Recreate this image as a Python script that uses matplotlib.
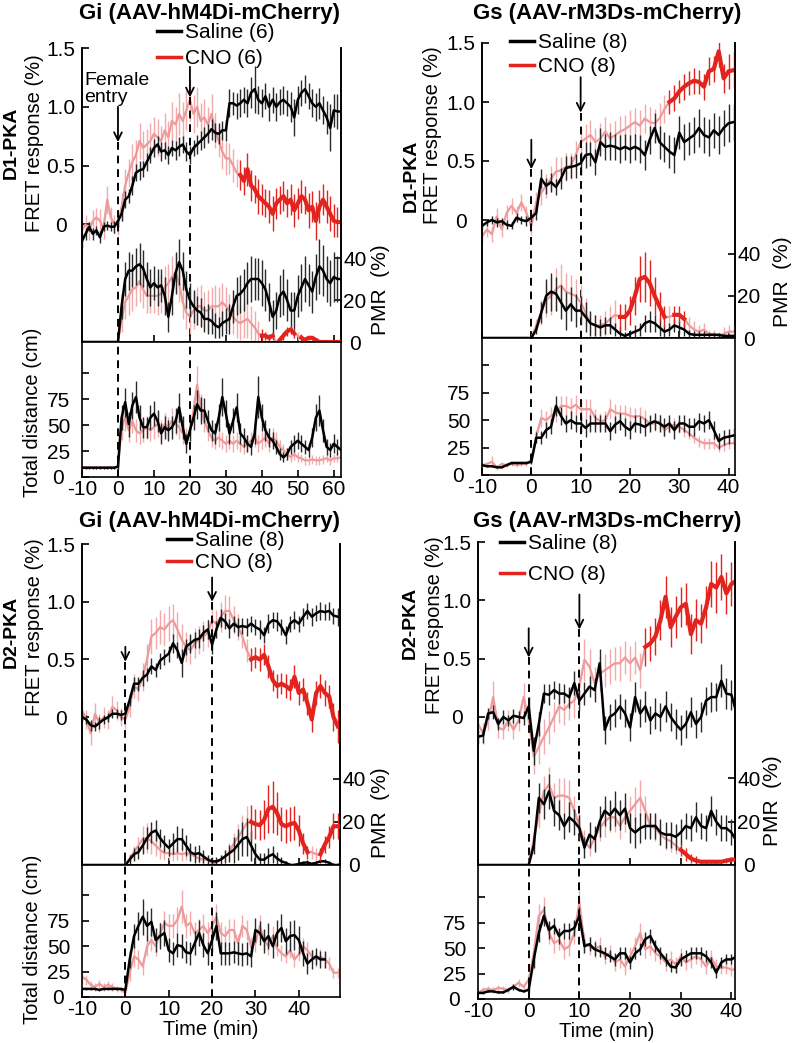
import numpy as np
import matplotlib
matplotlib.use('Agg')
import matplotlib.pyplot as plt
from matplotlib.lines import Line2D

plt.rcParams['font.family'] = ['Liberation Sans', 'DejaVu Sans']
plt.rcParams['font.size'] = 14
plt.rcParams['axes.unicode_minus'] = False

# ---------------- data ----------------
# D1-PKA, Gi (AAV-hM4Di-mCherry)
p1_t = np.arange(-10, 63)
p1_fret_sal = [-0.14, -0.08, -0.02, -0.08, -0.05, -0.11, -0.02, -0.01, -0.02, -0.02,
               0.03, 0.09, 0.21, 0.24, 0.33, 0.44, 0.46, 0.47, 0.53, 0.59,
               0.65, 0.68, 0.62, 0.63, 0.59, 0.65, 0.63, 0.66, 0.68, 0.62,
               0.59, 0.65, 0.68, 0.71, 0.74, 0.77, 0.81, 0.78, 0.77, 0.80,
               0.80, 1.03, 1.03, 1.01, 1.03, 1.06, 1.03, 1.12, 1.15, 1.06,
               1.03, 1.09, 1.00, 1.06, 1.00, 1.04, 1.06, 1.03, 1.00, 0.91,
               1.06, 1.12, 1.15, 1.09, 1.03, 1.00, 1.03, 0.97, 0.91, 0.82,
               0.97, 0.96, 0.96]
p1_fret_sal_err = [0.06, 0.05, 0.04, 0.05, 0.04, 0.05, 0.04, 0.04, 0.04, 0.05,
                   0.05, 0.06, 0.07, 0.06, 0.08, 0.07, 0.08, 0.07, 0.08, 0.07,
                   0.08, 0.07, 0.08, 0.07, 0.08, 0.07, 0.08, 0.08, 0.07, 0.08,
                   0.08, 0.07, 0.08, 0.08, 0.09, 0.08, 0.09, 0.08, 0.09, 0.08,
                   0.09, 0.12, 0.10, 0.11, 0.12, 0.11, 0.12, 0.13, 0.20, 0.12,
                   0.12, 0.11, 0.12, 0.11, 0.12, 0.11, 0.12, 0.11, 0.13, 0.16,
                   0.12, 0.11, 0.12, 0.11, 0.12, 0.12, 0.13, 0.12, 0.14, 0.20,
                   0.14, 0.15, 0.20]
p1_fret_cno = [-0.05, 0.00, -0.05, 0.03, 0.06, 0.03, -0.03, 0.21, 0.06, 0.00,
               0.00, 0.15, 0.33, 0.44, 0.53, 0.59, 0.71, 0.65, 0.68, 0.71,
               0.77, 0.74, 0.71, 0.80, 0.74, 0.88, 0.85, 0.94, 0.88, 0.97,
               1.06, 0.94, 1.00, 0.88, 0.91, 0.85, 0.94, 0.80, 0.71, 0.62,
               0.56, 0.56, 0.50, 0.44, 0.42, 0.37, 0.47, 0.33, 0.30, 0.24,
               0.21, 0.18, 0.15, 0.09, 0.18, 0.21, 0.24, 0.18, 0.21, 0.12,
               0.18, 0.24, 0.21, 0.12, 0.15, 0.03, 0.15, 0.21, 0.15, 0.09,
               0.03, 0.02, 0.02]
p1_fret_cno_err = [0.08, 0.08, 0.08, 0.09, 0.08, 0.10, 0.09, 0.12, 0.09, 0.08,
                   0.09, 0.12, 0.14, 0.12, 0.15, 0.13, 0.15, 0.14, 0.13, 0.15,
                   0.14, 0.16, 0.13, 0.15, 0.14, 0.16, 0.15, 0.18, 0.16, 0.17,
                   0.18, 0.16, 0.17, 0.15, 0.16, 0.15, 0.17, 0.15, 0.14, 0.15,
                   0.14, 0.13, 0.14, 0.12, 0.13, 0.12, 0.14, 0.13, 0.12, 0.15,
                   0.13, 0.12, 0.14, 0.15, 0.13, 0.12, 0.13, 0.12, 0.13, 0.14,
                   0.13, 0.14, 0.12, 0.15, 0.13, 0.16, 0.14, 0.13, 0.14, 0.15,
                   0.14, 0.13, 0.16]
p1_pmr_sal = [0, 0, 0, 0, 0, 0, 0, 0, 0, 0,
              0, 17, 30, 34, 34, 36, 37, 35, 30, 26,
              28, 26, 27, 22, 12, 22, 33, 38, 34, 25,
              20, 17, 15, 14, 11, 11, 10, 8, 7, 9,
              10, 11, 17, 22, 23, 25, 28, 30, 30, 30,
              28, 25, 19, 12, 15, 22, 24, 20, 15, 15,
              22, 26, 30, 27, 24, 31, 36, 34, 30, 28,
              31, 30, 30]
p1_pmr_sal_err = [0, 0, 0, 0, 0, 0, 0, 0, 0, 0,
                  0, 6, 8, 9, 8, 9, 10, 9, 8, 9,
                  8, 9, 8, 9, 7, 9, 10, 11, 9, 9,
                  8, 8, 7, 7, 6, 7, 6, 6, 5, 6,
                  6, 7, 8, 9, 9, 10, 10, 11, 10, 10,
                  11, 10, 9, 8, 9, 10, 11, 10, 9, 9,
                  10, 11, 11, 10, 10, 11, 13, 12, 11, 11,
                  12, 11, 12]
p1_pmr_cno = [0, 0, 0, 0, 0, 0, 0, 0, 0, 0,
              0, 11, 19, 22, 25, 26, 29, 25, 22, 22,
              22, 22, 23, 26, 28, 31, 33, 28, 19, 14,
              12, 15, 17, 17, 15, 15, 17, 17, 17, 19,
              17, 15, 12, 10, 9, 10, 11, 9, 7, 4,
              3, 3, 2, 3, 0, 1, 3, 5, 6, 4,
              3, 2, 1, 2, 2, 1, 0, 0, 0, 0,
              0, 0, 0]
p1_pmr_cno_err = [0, 0, 0, 0, 0, 0, 0, 0, 0, 0,
                  0, 6, 8, 9, 10, 9, 10, 9, 8, 8,
                  8, 9, 9, 10, 9, 10, 9, 9, 8, 8,
                  8, 9, 9, 10, 9, 10, 9, 10, 9, 9,
                  9, 8, 8, 8, 8, 8, 9, 8, 8, 6,
                  3, 2, 2, 2, 1, 2, 2, 2, 2, 2,
                  2, 2, 1, 1, 1, 1, 0, 0, 0, 0,
                  0, 0, 0]
p1_dist_sal = [9, 9, 9, 9, 9, 9, 9, 9, 9, 9,
               10, 57, 72, 51, 69, 77, 57, 48, 48, 57,
               61, 54, 42, 48, 45, 48, 54, 67, 48, 32,
               45, 57, 70, 64, 64, 54, 45, 42, 57, 77,
               61, 42, 54, 67, 42, 38, 32, 29, 42, 77,
               57, 45, 38, 35, 29, 22, 19, 22, 29, 32,
               35, 32, 29, 26, 38, 57, 64, 45, 29, 26,
               32, 29, 26]
p1_dist_sal_err = [1, 1, 1, 1, 1, 1, 1, 1, 1, 1,
                   2, 12, 14, 12, 13, 15, 12, 10, 10, 12,
                   12, 11, 10, 11, 10, 11, 12, 14, 11, 9,
                   10, 12, 14, 13, 12, 11, 10, 10, 13, 18,
                   13, 10, 12, 14, 10, 9, 8, 8, 10, 20,
                   13, 10, 9, 8, 7, 6, 5, 6, 7, 8,
                   8, 8, 7, 7, 9, 13, 15, 11, 8, 7,
                   9, 8, 7]
p1_dist_cno = [9, 9, 9, 9, 9, 9, 9, 9, 9, 9,
               10, 48, 57, 45, 54, 45, 42, 45, 48, 45,
               48, 51, 45, 51, 48, 54, 51, 48, 42, 38,
               42, 64, 89, 67, 54, 45, 38, 35, 38, 35,
               32, 35, 32, 35, 32, 29, 32, 35, 38, 32,
               35, 38, 32, 38, 35, 29, 26, 22, 19, 22,
               19, 18, 16, 16, 17, 16, 16, 17, 18, 16,
               18, 18, 19]
p1_dist_cno_err = [1, 1, 1, 1, 1, 1, 1, 1, 1, 1,
                   2, 12, 13, 11, 12, 11, 10, 11, 11, 10,
                   11, 12, 10, 11, 10, 12, 11, 11, 10, 9,
                   10, 13, 18, 13, 11, 10, 9, 8, 9, 8,
                   8, 8, 8, 8, 8, 7, 8, 8, 9, 8,
                   8, 9, 8, 9, 8, 7, 6, 6, 5, 6,
                   5, 4, 4, 4, 4, 4, 4, 4, 4, 4,
                   4, 4, 4]
p1_sig_fret = [(34, 62)]
p1_sig_pmr = [(40, 43), (45, 49), (51, 62)]

# D1-PKA, Gs (AAV-rM3Ds-mCherry)
p2_t = np.arange(-10, 42)
p2_fret_sal = [-0.05, -0.02, 0.00, -0.02, -0.01, -0.04, -0.05, 0.02, 0.00, -0.01,
               0.02, 0.06, 0.35, 0.29, 0.32, 0.28, 0.35, 0.44, 0.45, 0.46,
               0.48, 0.55, 0.56, 0.49, 0.66, 0.62, 0.63, 0.62, 0.60, 0.62,
               0.60, 0.62, 0.60, 0.55, 0.68, 0.78, 0.66, 0.62, 0.58, 0.55,
               0.74, 0.66, 0.69, 0.72, 0.78, 0.72, 0.70, 0.76, 0.72, 0.78,
               0.82, 0.83]
p2_fret_sal_err = [0.03, 0.03, 0.03, 0.04, 0.03, 0.04, 0.03, 0.04, 0.03, 0.04,
                   0.04, 0.06, 0.08, 0.07, 0.08, 0.07, 0.09, 0.10, 0.09, 0.10,
                   0.10, 0.11, 0.10, 0.11, 0.12, 0.11, 0.12, 0.11, 0.12, 0.11,
                   0.12, 0.11, 0.12, 0.13, 0.12, 0.13, 0.14, 0.13, 0.14, 0.15,
                   0.14, 0.15, 0.14, 0.15, 0.16, 0.15, 0.16, 0.15, 0.16, 0.15,
                   0.16, 0.15]
p2_fret_cno = [-0.14, -0.08, -0.12, 0.03, -0.08, 0.06, 0.12, 0.06, 0.15, 0.06,
               -0.05, 0.15, 0.23, 0.29, 0.35, 0.41, 0.42, 0.45, 0.46, 0.55,
               0.66, 0.69, 0.72, 0.66, 0.69, 0.75, 0.69, 0.72, 0.75, 0.77,
               0.80, 0.83, 0.80, 0.86, 0.83, 0.82, 0.86, 0.94, 1.00, 1.03,
               1.09, 1.13, 1.16, 1.18, 1.17, 1.13, 1.26, 1.28, 1.43, 1.20,
               1.26, 1.27]
p2_fret_cno_err = [0.06, 0.06, 0.07, 0.07, 0.06, 0.07, 0.07, 0.06, 0.07, 0.06,
                   0.08, 0.09, 0.10, 0.10, 0.11, 0.12, 0.11, 0.12, 0.11, 0.12,
                   0.13, 0.12, 0.13, 0.12, 0.13, 0.12, 0.13, 0.12, 0.13, 0.12,
                   0.13, 0.12, 0.13, 0.12, 0.13, 0.12, 0.13, 0.12, 0.10, 0.11,
                   0.10, 0.11, 0.10, 0.11, 0.10, 0.11, 0.12, 0.11, 0.13, 0.12,
                   0.15, 0.15]
p2_pmr_sal = [0, 0, 0, 0, 0, 0, 0, 0, 0, 0,
              0, 4, 12, 20, 22, 21, 17, 13, 16, 13,
              13, 10, 7, 6, 5, 6, 6, 4, 2, 1,
              2, 3, 4, 7, 8, 7, 5, 3, 4, 6,
              5, 4, 2, 1.5, 1.5, 1.5, 1.5, 1.5, 1.5, 1,
              1, 1]
p2_pmr_sal_err = [0, 0, 0, 0, 0, 0, 0, 0, 0, 0,
                  0, 2, 5, 8, 9, 8, 8, 9, 8, 8,
                  7, 7, 6, 5, 4, 4, 4, 3, 3, 2,
                  2, 3, 3, 4, 5, 4, 4, 3, 3, 3,
                  3, 3, 2, 2, 2, 2, 1, 1, 1, 1,
                  1, 1]
p2_pmr_cno = [0, 0, 0, 0, 0, 0, 0, 0, 0, 0,
              0, 6, 12, 18, 20, 23, 25, 22, 21, 20,
              17, 12, 7, 6, 6, 7, 9, 11, 10, 10,
              13, 20, 28, 29, 26, 20, 15, 10, 10, 11,
              11, 9, 6, 4, 3, 4, 2, 2, 1, 2,
              3, 3]
p2_pmr_cno_err = [0, 0, 0, 0, 0, 0, 0, 0, 0, 0,
                  0, 3, 6, 8, 9, 10, 10, 9, 9, 8,
                  8, 7, 5, 5, 5, 6, 6, 7, 6, 6,
                  7, 9, 11, 12, 11, 9, 7, 5, 5, 4,
                  4, 4, 4, 4, 3, 3, 2, 2, 2, 3,
                  3, 3]
p2_dist_sal = [9, 8, 8, 7, 7, 9, 11, 11, 11, 11,
               12, 34, 34, 41, 44, 63, 54, 47, 50, 47,
               47, 43, 47, 47, 47, 47, 40, 46, 49, 44,
               41, 47, 46, 44, 47, 49, 47, 44, 47, 41,
               47, 47, 44, 44, 49, 47, 50, 41, 31, 34,
               35, 36]
p2_dist_sal_err = [1, 1, 1, 1, 1, 1, 1, 1, 1, 1,
                   2, 5, 6, 7, 7, 9, 8, 8, 8, 8,
                   8, 8, 8, 8, 8, 8, 8, 8, 8, 8,
                   8, 8, 8, 8, 8, 8, 8, 8, 8, 8,
                   8, 8, 8, 8, 8, 8, 8, 8, 7, 7,
                   7, 7]
p2_dist_cno = [9, 10, 12, 7, 10, 9, 10, 9, 10, 10,
               14, 35, 52, 50, 54, 57, 63, 63, 61, 64,
               60, 60, 60, 52, 49, 50, 60, 57, 56, 56,
               54, 53, 54, 51, 47, 47, 49, 41, 44, 46,
               44, 41, 38, 34, 31, 29, 29, 29, 25, 27,
               29, 29]
p2_dist_cno_err = [2, 2, 5, 2, 2, 2, 2, 2, 2, 2,
                   3, 6, 8, 8, 8, 9, 9, 9, 9, 9,
                   9, 9, 9, 8, 8, 8, 9, 8, 8, 8,
                   8, 8, 8, 8, 7, 7, 7, 6, 6, 6,
                   6, 6, 5, 5, 5, 5, 5, 5, 4, 5,
                   5, 5]
p2_sig_fret = [(28, 41)]
p2_sig_pmr = [(18, 27), (29, 31)]

# D2-PKA, Gi (AAV-hM4Di-mCherry)
p3_t = np.arange(-10, 50)
p3_fret_sal = [0.00, -0.02, -0.07, -0.08, -0.05, -0.02, 0.00, 0.03, 0.03, 0.02,
               0.03, 0.15, 0.29, 0.29, 0.34, 0.37, 0.44, 0.41, 0.49, 0.52,
               0.55, 0.64, 0.58, 0.47, 0.61, 0.64, 0.67, 0.68, 0.73, 0.76,
               0.63, 0.76, 0.86, 0.83, 0.77, 0.81, 0.78, 0.79, 0.78, 0.81,
               0.78, 0.76, 0.71, 0.81, 0.84, 0.83, 0.78, 0.71, 0.81, 0.84,
               0.81, 0.87, 0.92, 0.87, 0.90, 0.92, 0.91, 0.92, 0.88, 0.87]
p3_fret_sal_err = [0.04, 0.04, 0.05, 0.04, 0.05, 0.04, 0.04, 0.04, 0.04, 0.04,
                   0.04, 0.05, 0.06, 0.06, 0.07, 0.06, 0.07, 0.06, 0.07, 0.07,
                   0.07, 0.08, 0.07, 0.12, 0.07, 0.08, 0.07, 0.08, 0.07, 0.08,
                   0.08, 0.07, 0.08, 0.07, 0.08, 0.07, 0.08, 0.07, 0.08, 0.07,
                   0.07, 0.08, 0.07, 0.08, 0.07, 0.08, 0.07, 0.08, 0.07, 0.08,
                   0.07, 0.08, 0.07, 0.08, 0.07, 0.08, 0.07, 0.08, 0.07, 0.08]
p3_fret_cno = [0.06, -0.02, -0.14, 0.03, -0.05, 0.00, -0.02, 0.09, 0.06, 0.00,
               -0.02, 0.09, 0.27, 0.24, 0.35, 0.50, 0.70, 0.73, 0.78, 0.76,
               0.81, 0.84, 0.76, 0.67, 0.61, 0.58, 0.64, 0.67, 0.70, 0.73,
               0.84, 0.81, 0.87, 0.92, 0.92, 0.84, 0.78, 0.70, 0.58, 0.50,
               0.52, 0.50, 0.54, 0.44, 0.32, 0.27, 0.29, 0.27, 0.24, 0.35,
               0.21, 0.24, 0.12, -0.02, 0.21, 0.27, 0.21, 0.18, 0.00, -0.08]
p3_fret_cno_err = [0.08, 0.08, 0.10, 0.09, 0.08, 0.09, 0.08, 0.09, 0.08, 0.08,
                   0.08, 0.09, 0.10, 0.10, 0.12, 0.13, 0.15, 0.14, 0.15, 0.14,
                   0.15, 0.14, 0.15, 0.14, 0.13, 0.12, 0.13, 0.12, 0.13, 0.12,
                   0.13, 0.12, 0.13, 0.14, 0.13, 0.12, 0.11, 0.10, 0.10, 0.10,
                   0.09, 0.10, 0.09, 0.10, 0.09, 0.10, 0.09, 0.10, 0.09, 0.10,
                   0.10, 0.10, 0.10, 0.11, 0.10, 0.10, 0.11, 0.10, 0.12, 0.14]
p3_pmr_sal = [0, 0, 0, 0, 0, 0, 0, 0, 0, 0,
              0, 2.5, 5, 6, 9, 12.5, 15, 16, 12.5, 10,
              8, 10, 12, 12, 9, 6, 5, 5.5, 4, 2.5,
              1.7, 1.7, 2.5, 4, 5.5, 7, 9.5, 12, 13, 9,
              5, 2.5, 2.5, 4, 5, 3, 1.7, 1, 0, 0,
              0.5, 1, 1.2, 0.5, 1, 1.7, 1.7, 1, 0, 0]
p3_pmr_sal_err = [0, 0, 0, 0, 0, 0, 0, 0, 0, 0,
                  0, 2, 3, 3, 4, 5, 5, 5, 4, 4,
                  4, 5, 6, 5, 5, 4, 4, 4, 3, 2,
                  2, 2, 2, 3, 4, 6, 7, 8, 9, 7,
                  5, 3, 3, 4, 4, 3, 2, 1, 1, 1,
                  1, 1, 1, 1, 1, 1, 1, 1, 1, 1]
p3_pmr_cno = [0, 0, 0, 0, 0, 0, 0, 0, 0, 0,
              0, 3, 6, 9, 12, 12.5, 11, 9, 7, 5.5,
              5.5, 5, 5.5, 5, 5.5, 5, 4, 3, 2.5, 2.5,
              1, 1, 2.5, 4, 6, 10, 13, 16, 19.5, 20,
              19, 18.5, 21, 26, 27, 24, 19, 18, 19, 19.5,
              16, 10, 6, 6, 5, 5, 9.5, 13, 18, 18]
p3_pmr_cno_err = [0, 0, 0, 0, 0, 0, 0, 0, 0, 0,
                  0, 2, 3, 4, 6, 7, 6, 5, 4, 3,
                  3, 3, 3, 3, 3, 3, 2, 2, 2, 2,
                  1, 1, 2, 3, 4, 5, 6, 7, 8, 8,
                  7, 7, 9, 11, 12, 10, 8, 8, 8, 8,
                  7, 5, 3, 3, 3, 3, 4, 5, 6, 6]
p3_dist_sal = [8, 8, 8, 8, 7, 8, 8, 8, 8, 8,
               7, 37, 60, 70, 79, 70, 74, 56, 60, 63,
               46, 43, 51, 50, 44, 43, 53, 63, 51, 43,
               56, 70, 43, 43, 43, 44, 43, 42, 43, 40,
               66, 63, 55, 60, 50, 63, 68, 55, 60, 61,
               56, 43, 33, 37, 40, 37, 37, None, None, None]
p3_dist_sal_err = [1, 1, 1, 1, 1, 1, 1, 1, 1, 1,
                   1, 8, 12, 14, 18, 15, 14, 12, 13, 13,
                   12, 11, 12, 12, 11, 11, 12, 13, 12, 11,
                   12, 14, 11, 11, 11, 11, 11, 11, 11, 10,
                   12, 12, 12, 13, 12, 13, 14, 13, 15, 15,
                   14, 12, 10, 9, 8, 8, 8, None, None, None]
p3_dist_cno = [20, 17, 12, 10, 13, 10, 12, 10, 8, 7,
               4, 24, 40, 37, 30, 50, 56, 50, 63, 73,
               70, 70, 76, 89, 70, 73, 63, 66, 70, 63,
               70, 79, 63, 60, 66, 66, 53, 70, 66, 50,
               53, 70, 56, 50, 60, 48, 43, 40, 46, 37,
               42, 50, 46, 40, 37, 40, 37, 33, 24, 24]
p3_dist_cno_err = [6, 5, 4, 4, 4, 4, 4, 4, 3, 2,
                   2, 8, 10, 9, 8, 10, 11, 10, 11, 12,
                   12, 12, 13, 16, 12, 12, 11, 11, 12, 11,
                   12, 13, 11, 10, 11, 11, 9, 11, 10, 9,
                   9, 11, 9, 9, 10, 8, 8, 7, 8, 7,
                   7, 8, 8, 7, 7, 7, 7, 6, 5, 5]
p3_sig_fret = [(29, 49)]
p3_sig_pmr = [(29, 42), (45, 49)]

# D2-PKA, Gs (AAV-rM3Ds-mCherry)
p4_t = np.arange(-10, 42)
p4_fret_sal = [-0.17, -0.16, 0.03, 0.04, -0.06, 0.00, -0.03, 0.01, 0.00, -0.01,
               0.09, -0.29, -0.06, 0.20, 0.19, 0.23, 0.20, 0.20, 0.17, 0.29,
               0.14, 0.20, 0.26, 0.23, 0.46, -0.11, 0.00, 0.03, 0.09, 0.03,
               -0.09, 0.17, 0.03, 0.09, -0.03, 0.03, 0.00, 0.09, 0.00, -0.06,
               -0.11, -0.06, 0.04, -0.06, 0.00, 0.14, 0.17, 0.17, 0.31, 0.20,
               0.19, 0.03]
p4_fret_sal_err = [0.06, 0.06, 0.05, 0.06, 0.05, 0.06, 0.05, 0.06, 0.05, 0.06,
                   0.08, 0.12, 0.10, 0.08, 0.09, 0.08, 0.09, 0.08, 0.09, 0.10,
                   0.09, 0.10, 0.09, 0.10, 0.12, 0.12, 0.11, 0.12, 0.11, 0.12,
                   0.12, 0.13, 0.12, 0.13, 0.12, 0.13, 0.12, 0.13, 0.12, 0.13,
                   0.13, 0.12, 0.13, 0.12, 0.13, 0.12, 0.13, 0.12, 0.14, 0.13,
                   0.13, 0.13]
p4_fret_cno = [-0.06, -0.14, -0.03, 0.17, -0.09, -0.11, -0.03, -0.11, -0.03, 0.17,
               -0.03, -0.34, -0.26, -0.17, -0.09, 0.00, 0.09, 0.06, 0.11, 0.14,
               0.26, 0.49, 0.43, 0.29, 0.37, 0.40, 0.43, 0.46, 0.46, 0.51,
               0.46, 0.51, 0.40, 0.60, 0.63, 0.69, 0.83, 1.03, 0.77, 0.86,
               0.94, 0.97, 0.71, 0.83, 0.80, 0.94, 1.14, 1.11, 1.20, 1.06,
               1.14, 1.17]
p4_fret_cno_err = [0.08, 0.09, 0.08, 0.14, 0.09, 0.08, 0.09, 0.08, 0.09, 0.12,
                   0.10, 0.15, 0.14, 0.15, 0.14, 0.13, 0.14, 0.13, 0.14, 0.15,
                   0.16, 0.18, 0.15, 0.14, 0.15, 0.14, 0.15, 0.14, 0.15, 0.14,
                   0.15, 0.14, 0.15, 0.16, 0.15, 0.16, 0.17, 0.18, 0.17, 0.18,
                   0.17, 0.18, 0.17, 0.18, 0.17, 0.18, 0.20, 0.22, 0.20, 0.18,
                   0.19, 0.19]
p4_pmr_sal = [0, 0, 0, 0, 0, 0, 0, 0, 0, 0,
              0, 9, 31, 28, 34, 25, 23, 18, 22, 20,
              17, 8, 14, 12, 20, 25, 23, 26, 23, 26,
              17, 15, 17, 18, 18, 18, 15, 14, 14, 13,
              15, 18, 17, 22, 18, 17, 25, 20, 17, 17,
              15, 11]
p4_pmr_sal_err = [0, 0, 0, 0, 0, 0, 0, 0, 0, 0,
                  0, 4, 7, 7, 8, 7, 7, 6, 7, 6,
                  6, 5, 6, 6, 7, 7, 7, 8, 7, 7,
                  7, 7, 7, 6, 6, 6, 6, 6, 6, 6,
                  6, 6, 6, 7, 6, 6, 7, 6, 6, 6,
                  6, 6]
p4_pmr_cno = [0, 0, 0, 0, 0, 0, 0, 0, 0, 0,
              0, 12, 23, 34, 37, 31, 32, 32, 31, 25,
              18, 11, 8, 12, 17, 20, 22, 22, 18, 22,
              25, 28, 31, 25, 18, 17, 14, 12, 11, 9,
              7, 5, 3, 2, 1.5, 1.5, 1.5, 1.5, 1.5, 2,
              2.5, 2.5]
p4_pmr_cno_err = [0, 0, 0, 0, 0, 0, 0, 0, 0, 0,
                  0, 4, 6, 7, 8, 7, 8, 8, 8, 7,
                  6, 5, 4, 5, 6, 7, 7, 7, 6, 7,
                  7, 8, 8, 7, 6, 6, 5, 5, 5, 4,
                  3, 3, 2, 2, 1, 1, 1, 1, 1, 1,
                  1, 1]
p4_dist_sal = [6, 6, 7.5, 7.5, 6.5, 6.5, 9, 12, 9, 7.5,
               9, 39, 65, 82, 68, 72, 62, 67, 67, 70,
               82, 52, 54, 49, 47, 45, 42, 39, 45, 45,
               36, 45, 49, 59, 62, 52, 45, 39, 32, 31,
               39, 42, 45, 45, 45, 42, 36, 26, 36, 39,
               39, 42]
p4_dist_sal_err = [1, 1, 1, 1, 1, 1, 1, 3, 1, 1,
                   2, 8, 9, 10, 9, 8, 8, 8, 8, 8,
                   9, 7, 7, 7, 6, 6, 6, 6, 6, 6,
                   6, 6, 6, 7, 7, 6, 6, 6, 5, 5,
                   6, 6, 6, 6, 6, 6, 5, 5, 5, 5,
                   5, 5]
p4_dist_cno = [6, 9, 10, 9, 11, 10, 9, 12, 16, 12,
               19, 45, 82, 88, 65, 55, 58, 49, 52, 65,
               95, 55, 52, 49, 52, 42, 45, 36, 39, 32,
               42, 52, 65, 49, 52, 45, 42, 36, 39, 34,
               42, 36, 39, 42, 39, 32, 41, 32, 31, 31,
               29, 29]
p4_dist_cno_err = [3, 3, 3, 3, 3, 3, 3, 3, 4, 3,
                   4, 10, 12, 12, 11, 10, 10, 10, 10, 11,
                   14, 10, 9, 9, 9, 8, 8, 8, 8, 8,
                   9, 9, 10, 9, 9, 8, 8, 8, 8, 7,
                   8, 7, 8, 8, 7, 7, 7, 7, 6, 6,
                   6, 6]
p4_sig_fret = [(23, 41)]
p4_sig_pmr = [(30, 41)]

titles = ['Gi (AAV-hM4Di-mCherry)', 'Gs (AAV-rM3Ds-mCherry)']
n_sal = ['Saline (6)', 'Saline (8)', 'Saline (8)', 'Saline (8)']
n_cno = ['CNO (6)', 'CNO (8)', 'CNO (8)', 'CNO (8)']

# ---------------- figure ----------------
BLACK = '#000000'
EBLACK = '#2a2a2a'
PINK = '#EE9A9A'
EPINK = '#F2AAAA'
RED = '#E3231E'
TICK_FS = 15

W, H = 796, 1043
fig = plt.figure(figsize=(W / 100, H / 100), dpi=100)


def frect(l, t, r, b):
    return [l / W, 1 - b / H, (r - l) / W, (b - t) / H]


def ftext(x, y, s, **kw):
    fig.text(x / W, 1 - y / H, s, **kw)


def sig_mask(t, ranges):
    m = np.zeros(len(t), bool)
    for a, b in ranges:
        m |= (t >= a) & (t <= b)
    return m


def pair(ax, t, sal, sal_e, cno, cno_e, sig=None):
    sal, sal_e = np.array(sal, float), np.array(sal_e, float)
    cno, cno_e = np.array(cno, float), np.array(cno_e, float)
    m = sig_mask(t, sig) if sig else np.zeros(len(t), bool)
    ax.errorbar(t[~m], cno[~m], yerr=cno_e[~m], fmt='none', ecolor=EPINK,
                elinewidth=1.0, capsize=0, zorder=1)
    ax.plot(t, cno, color=PINK, lw=1.6, zorder=2)
    ax.errorbar(t, sal, yerr=sal_e, fmt='none', ecolor=EBLACK,
                elinewidth=1.0, capsize=0, zorder=3)
    ax.plot(t, sal, color=BLACK, lw=1.8, zorder=4)
    if m.any():
        ax.errorbar(t[m], cno[m], yerr=cno_e[m], fmt='none', ecolor=RED,
                    elinewidth=1.0, capsize=0, zorder=5)
        ax.plot(t, np.where(m, cno, np.nan), color=RED, lw=3.0, zorder=6)


def center_labels(labels):
    for lab in labels:
        lab.set_horizontalalignment('center')


def panel(box, t, fret, pmr, dist, xlim, fret_lo, pmr_hi, dist_hi, xticks,
          marks, leg, time_label):
    l, r, top, mid, bot = box
    ax = fig.add_axes(frect(l, top, r, mid))
    ax2 = ax.twinx()
    axd = fig.add_axes(frect(l, mid, r, bot))

    pair(ax, t, *fret)
    pair(ax2, t, *pmr)
    pair(axd, t, *dist)

    ax.set_xlim(*xlim)
    axd.set_xlim(*xlim)
    ax.set_ylim(fret_lo, 1.5)
    ax2.set_ylim(0, pmr_hi)
    axd.set_ylim(0, dist_hi)

    ax.set_yticks([0, 0.5, 1.0, 1.5])
    ax.set_yticklabels(['0', '0.5', '1.0', '1.5'])
    ax2.set_yticks([0, 20, 40])
    ax.set_xticks(xticks)
    ax.tick_params(axis='x', labelbottom=False)
    axd.set_xticks(xticks)
    axd.set_yticks([0, 25, 50, 75, 100])
    axd.set_yticklabels(['0', '25', '50', '75', ''])
    for a in (ax, ax2, axd):
        a.tick_params(direction='in', length=5, width=1.2, labelsize=TICK_FS, pad=2)
        for s in a.spines.values():
            s.set_linewidth(1.2)
    ax.tick_params(axis='y', pad=15)
    ax2.tick_params(axis='y', pad=10)
    axd.tick_params(axis='y', pad=17)
    center_labels(ax.get_yticklabels())
    center_labels(ax2.get_yticklabels())
    center_labels(axd.get_yticklabels())
    ax.spines['top'].set_visible(False)
    ax2.spines['top'].set_visible(False)

    # female entry / CNO arrows and dashed guides
    for x, tail, head in marks:
        ax.annotate('', xy=(x, head), xytext=(x, tail),
                    arrowprops=dict(arrowstyle='->', color='k', lw=1.3,
                                    shrinkA=0, shrinkB=0, mutation_scale=14))
        ax.plot([x, x], [head, fret_lo], color='k', lw=1.4, ls=(0, (4, 3)), zorder=7)
        axd.axvline(x, color='k', lw=1.4, ls=(0, (4, 3)), zorder=7)

    lx, ly, lsp, lab_s, lab_c = leg
    handles = [Line2D([], [], color=BLACK, lw=2.5), Line2D([], [], color=RED, lw=2.5)]
    ax2.legend(handles, [lab_s, lab_c], loc='upper left',
               bbox_to_anchor=(lx / W, 1 - ly / H), bbox_transform=fig.transFigure,
               frameon=False, fontsize=15, handlelength=1.15, handletextpad=0.2,
               labelspacing=lsp, borderpad=0, borderaxespad=0)
    if time_label:
        axd.set_xlabel('Time (min)', fontsize=14.5, labelpad=1)
    return ax, ax2, axd


panel((82, 341, 48, 342, 477), p1_t,
      (p1_fret_sal, p1_fret_sal_err, p1_fret_cno, p1_fret_cno_err, p1_sig_fret),
      (p1_pmr_sal, p1_pmr_sal_err, p1_pmr_cno, p1_pmr_cno_err, p1_sig_pmr),
      (p1_dist_sal, p1_dist_sal_err, p1_dist_cno, p1_dist_cno_err),
      (-10, 62), -1.0, 140, 130, range(-10, 61, 10),
      [(0, 1.00, 0.70), (20, 1.34, 1.08)],
      (157, 23, 0.35, n_sal[0], n_cno[0]), False)

panel((482, 735, 43, 338, 475), p2_t,
      (p2_fret_sal, p2_fret_sal_err, p2_fret_cno, p2_fret_cno_err, p2_sig_fret),
      (p2_pmr_sal, p2_pmr_sal_err, p2_pmr_cno, p2_pmr_cno_err, p2_sig_pmr),
      (p2_dist_sal, p2_dist_sal_err, p2_dist_cno, p2_dist_cno_err),
      (-10, 41.3), -1.0, 140, 125, range(-10, 41, 10),
      [(0, 0.68, 0.43), (10, 1.21, 0.91)],
      (510, 33, 0.25, n_sal[1], n_cno[1]), False)

panel((82, 340, 544, 865, 997), p3_t,
      (p3_fret_sal, p3_fret_sal_err, p3_fret_cno, p3_fret_cno_err, p3_sig_fret),
      (p3_pmr_sal, p3_pmr_sal_err, p3_pmr_cno, p3_pmr_cno_err, p3_sig_pmr),
      (p3_dist_sal, p3_dist_sal_err, p3_dist_cno, p3_dist_cno_err),
      (-10, 49.5), -1.28, 149, 130, range(-10, 41, 10),
      [(0, 0.61, 0.48), (20, 1.21, 1.00)],
      (167, 531, 0.16, n_sal[2], n_cno[2]), True)

panel((478, 735, 542, 865, 999), p4_t,
      (p4_fret_sal, p4_fret_sal_err, p4_fret_cno, p4_fret_cno_err, p4_sig_fret),
      (p4_pmr_sal, p4_pmr_sal_err, p4_pmr_cno, p4_pmr_cno_err, p4_sig_pmr),
      (p4_dist_sal, p4_dist_sal_err, p4_dist_cno, p4_dist_cno_err),
      (-10, 40.7), -1.27, 149, 132, range(-10, 41, 10),
      [(0, 0.76, 0.51), (10, 1.05, 0.75)],
      (500, 534, 0.59, n_sal[3], n_cno[3]), True)

# titles and side labels
ftext(210, 14, titles[0], ha='center', va='center', fontsize=16, fontweight='bold')
ftext(607, 14, titles[1], ha='center', va='center', fontsize=16, fontweight='bold')
ftext(210, 521, titles[0], ha='center', va='center', fontsize=16, fontweight='bold')
ftext(607, 521, titles[1], ha='center', va='center', fontsize=16, fontweight='bold')

ftext(11, 143, 'D1-PKA', rotation=90, ha='center', va='center', fontsize=14, fontweight='bold')
ftext(411, 176, 'D1-PKA', rotation=90, ha='center', va='center', fontsize=14, fontweight='bold')
ftext(11, 632, 'D2-PKA', rotation=90, ha='center', va='center', fontsize=14, fontweight='bold')
ftext(410, 623, 'D2-PKA', rotation=90, ha='center', va='center', fontsize=14, fontweight='bold')

for x, y in [(35, 143), (433, 135), (35, 627), (434, 625)]:
    ftext(x, y, 'FRET response (%)', rotation=90, ha='center', va='center', fontsize=14.5)
for x, y in [(381, 290), (783, 282), (380, 813), (773, 801)]:
    ftext(x, y, 'PMR  (%)', rotation=90, ha='center', va='center', fontsize=15)
for x, y in [(33, 412), (33, 939)]:
    ftext(x, y, 'Total distance (cm)', rotation=90, ha='center', va='center', fontsize=14.5)

ftext(84, 89, 'Female\nentry', ha='left', va='center', fontsize=14, linespacing=0.95)

fig.savefig('out.png', dpi=100)
